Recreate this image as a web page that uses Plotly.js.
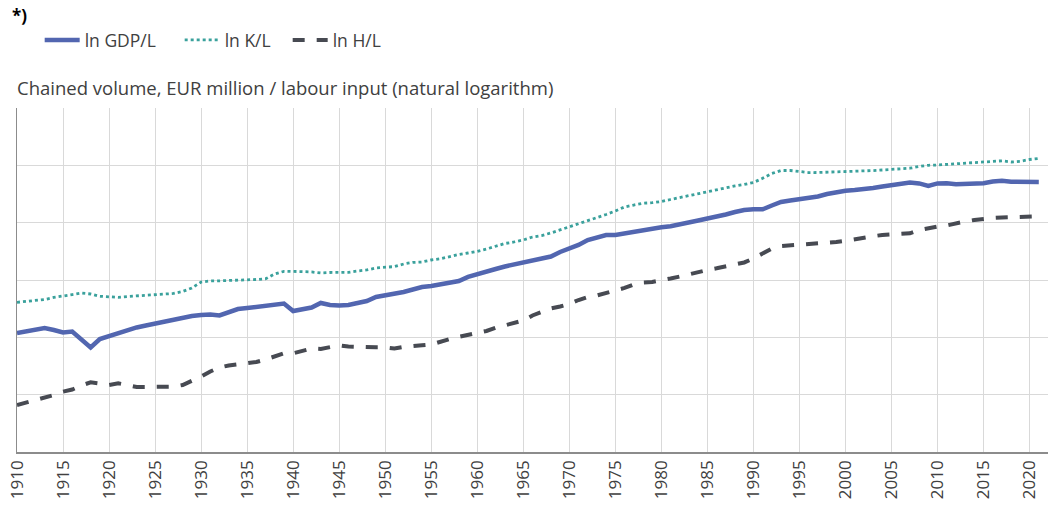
<!DOCTYPE html>
<html>
<head>
<meta charset="utf-8">
<script src="https://cdn.plot.ly/plotly-3.0.1.min.js"></script>
<style>
html,body{margin:0;padding:0;background:#fff;}
#chart{width:1049px;height:512px;}
</style>
</head>
<body>
<div id="chart"></div>
<script>
// Years 1910..2021
const years = [];
for (let y = 1910; y <= 2021; y++) years.push(y);

// Values (natural log scale, axis labels not visible; units = gridline steps)
const lnGDP_L = [
2.076,2.111,2.137,2.163,2.128,2.084,2.102,1.971,1.823,1.971,
2.023,2.076,2.128,2.172,2.207,2.241,2.268,2.302,2.337,2.372,
2.390,2.398,2.381,2.442,2.494,2.512,2.529,2.555,2.573,2.590,
2.459,2.494,2.520,2.599,2.564,2.555,2.564,2.599,2.634,2.704,
2.730,2.747,2.791,2.834,2.878,2.896,2.930,2.957,2.983,3.053,
3.105,3.157,3.192,3.236,3.271,3.297,3.332,3.366,3.410,3.489,
3.550,3.611,3.698,3.750,3.785,3.785,3.811,3.846,3.881,3.902,
3.919,3.937,3.977,4.012,4.038,4.073,4.099,4.143,4.186,4.221,
4.233,4.233,4.300,4.361,4.387,4.404,4.431,4.457,4.500,4.535,
4.558,4.570,4.579,4.605,4.631,4.649,4.669,4.701,4.684,4.640,
4.684,4.687,4.669,4.671,4.675,4.689,4.718,4.731,4.715,4.715,
4.713,4.710];

const lnK_L = [
2.611,2.625,2.634,2.660,2.695,2.726,2.747,2.773,2.756,2.716,
2.704,2.698,2.712,2.725,2.735,2.747,2.756,2.765,2.800,2.861,
2.965,2.983,2.986,2.990,2.995,3.000,3.009,3.021,3.105,3.152,
3.154,3.147,3.140,3.122,3.131,3.134,3.134,3.157,3.175,3.210,
3.227,3.234,3.279,3.307,3.314,3.349,3.370,3.410,3.445,3.471,
3.499,3.541,3.593,3.637,3.663,3.698,3.750,3.776,3.820,3.872,
3.930,3.986,4.038,4.090,4.143,4.204,4.274,4.308,4.338,4.349,
4.369,4.404,4.439,4.474,4.509,4.539,4.570,4.605,4.640,4.666,
4.701,4.774,4.858,4.910,4.910,4.893,4.874,4.875,4.879,4.881,
4.884,4.889,4.898,4.909,4.919,4.926,4.933,4.950,4.980,5.001,
5.006,5.015,5.024,5.036,5.045,5.053,5.062,5.079,5.058,5.071,
5.102,5.120];

const lnH_L = [
0.820,0.863,0.907,0.942,0.994,1.052,1.090,1.160,1.216,1.195,
1.169,1.198,1.169,1.134,1.134,1.137,1.139,1.139,1.169,1.238,
1.317,1.404,1.474,1.509,1.526,1.544,1.570,1.613,1.675,1.722,
1.722,1.770,1.805,1.797,1.832,1.861,1.840,1.832,1.823,1.825,
1.826,1.805,1.832,1.854,1.861,1.875,1.927,1.971,2.009,2.041,
2.076,2.111,2.166,2.207,2.250,2.294,2.381,2.442,2.503,2.538,
2.582,2.651,2.704,2.730,2.773,2.817,2.861,2.922,2.957,2.965,
2.991,3.026,3.061,3.105,3.148,3.175,3.204,3.236,3.262,3.306,
3.375,3.466,3.550,3.593,3.605,3.602,3.618,3.632,3.646,3.663,
3.684,3.715,3.742,3.764,3.785,3.797,3.808,3.815,3.872,3.911,
3.933,3.951,3.989,4.021,4.047,4.073,4.082,4.090,4.094,4.094,
4.108,4.111];

const seriesNames = ['ln GDP/L', 'ln K/L', 'ln H/L'];
const tickYears = [];
for (let y = 1910; y <= 2020; y += 5) tickYears.push(y);
const tickLabels = tickYears.map(String);

const FONT = 'Open Sans, Liberation Sans, sans-serif';

const traces = [
  {x: years, y: lnGDP_L, name: seriesNames[0], mode: 'lines', type: 'scatter', legendwidth: 90,
   line: {color: '#5266b0', width: 4.5}},
  {x: years, y: lnK_L, name: seriesNames[1], mode: 'lines', type: 'scatter', legendwidth: 58,
   line: {color: '#3aa19c', width: 2.8, dash: 'dot'}},
  {x: years, y: lnH_L, name: seriesNames[2], mode: 'lines', type: 'scatter',
   line: {color: '#474a52', width: 4, dash: 'dash'}}
];

const layout = {
  width: 1049, height: 512,
  margin: {l: 17, r: 1, t: 108, b: 60},
  paper_bgcolor: '#ffffff', plot_bgcolor: '#ffffff',
  font: {family: FONT, color: '#404040', size: 15},
  showlegend: true,
  legend: {orientation: 'h', x: 0.022, xanchor: 'left', y: 0.957, yref: 'container', yanchor: 'top',
           font: {family: FONT, size: 17.5, color: '#404040'}, itemwidth: 35,
           traceorder: 'normal', bgcolor: 'rgba(0,0,0,0)'},
  xaxis: {range: [1910, 2022], tickvals: tickYears, ticktext: tickLabels,
          tickangle: -90, tickfont: {family: FONT, size: 17, color: '#404040'},
          showgrid: true, gridcolor: '#d9d9d9', gridwidth: 1,
          showline: true, linecolor: '#8c8c8c', linewidth: 1.5,
          ticks: '', zeroline: false, fixedrange: true},
  yaxis: {range: [0, 6], dtick: 1, showticklabels: false,
          showgrid: true, gridcolor: '#d9d9d9', gridwidth: 1,
          showline: true, linecolor: '#8c8c8c', linewidth: 1.5,
          ticks: '', zeroline: false, fixedrange: true},
  annotations: [
    {text: '<b>*)</b>', xref: 'paper', yref: 'paper', x: -0.007, y: 1.268, xanchor: 'left', yanchor: 'middle',
     showarrow: false, font: {family: FONT, size: 17, color: '#000000'}},
    {text: 'Chained volume, EUR million / labour input (natural logarithm)', xref: 'paper', yref: 'paper',
     x: -0.002, y: 1.061, xanchor: 'left', yanchor: 'middle', showarrow: false,
     font: {family: FONT, size: 18.5, color: '#404040'}}
  ]
};

Plotly.newPlot('chart', traces, layout, {displayModeBar: false, staticPlot: true});
</script>
</body>
</html>
